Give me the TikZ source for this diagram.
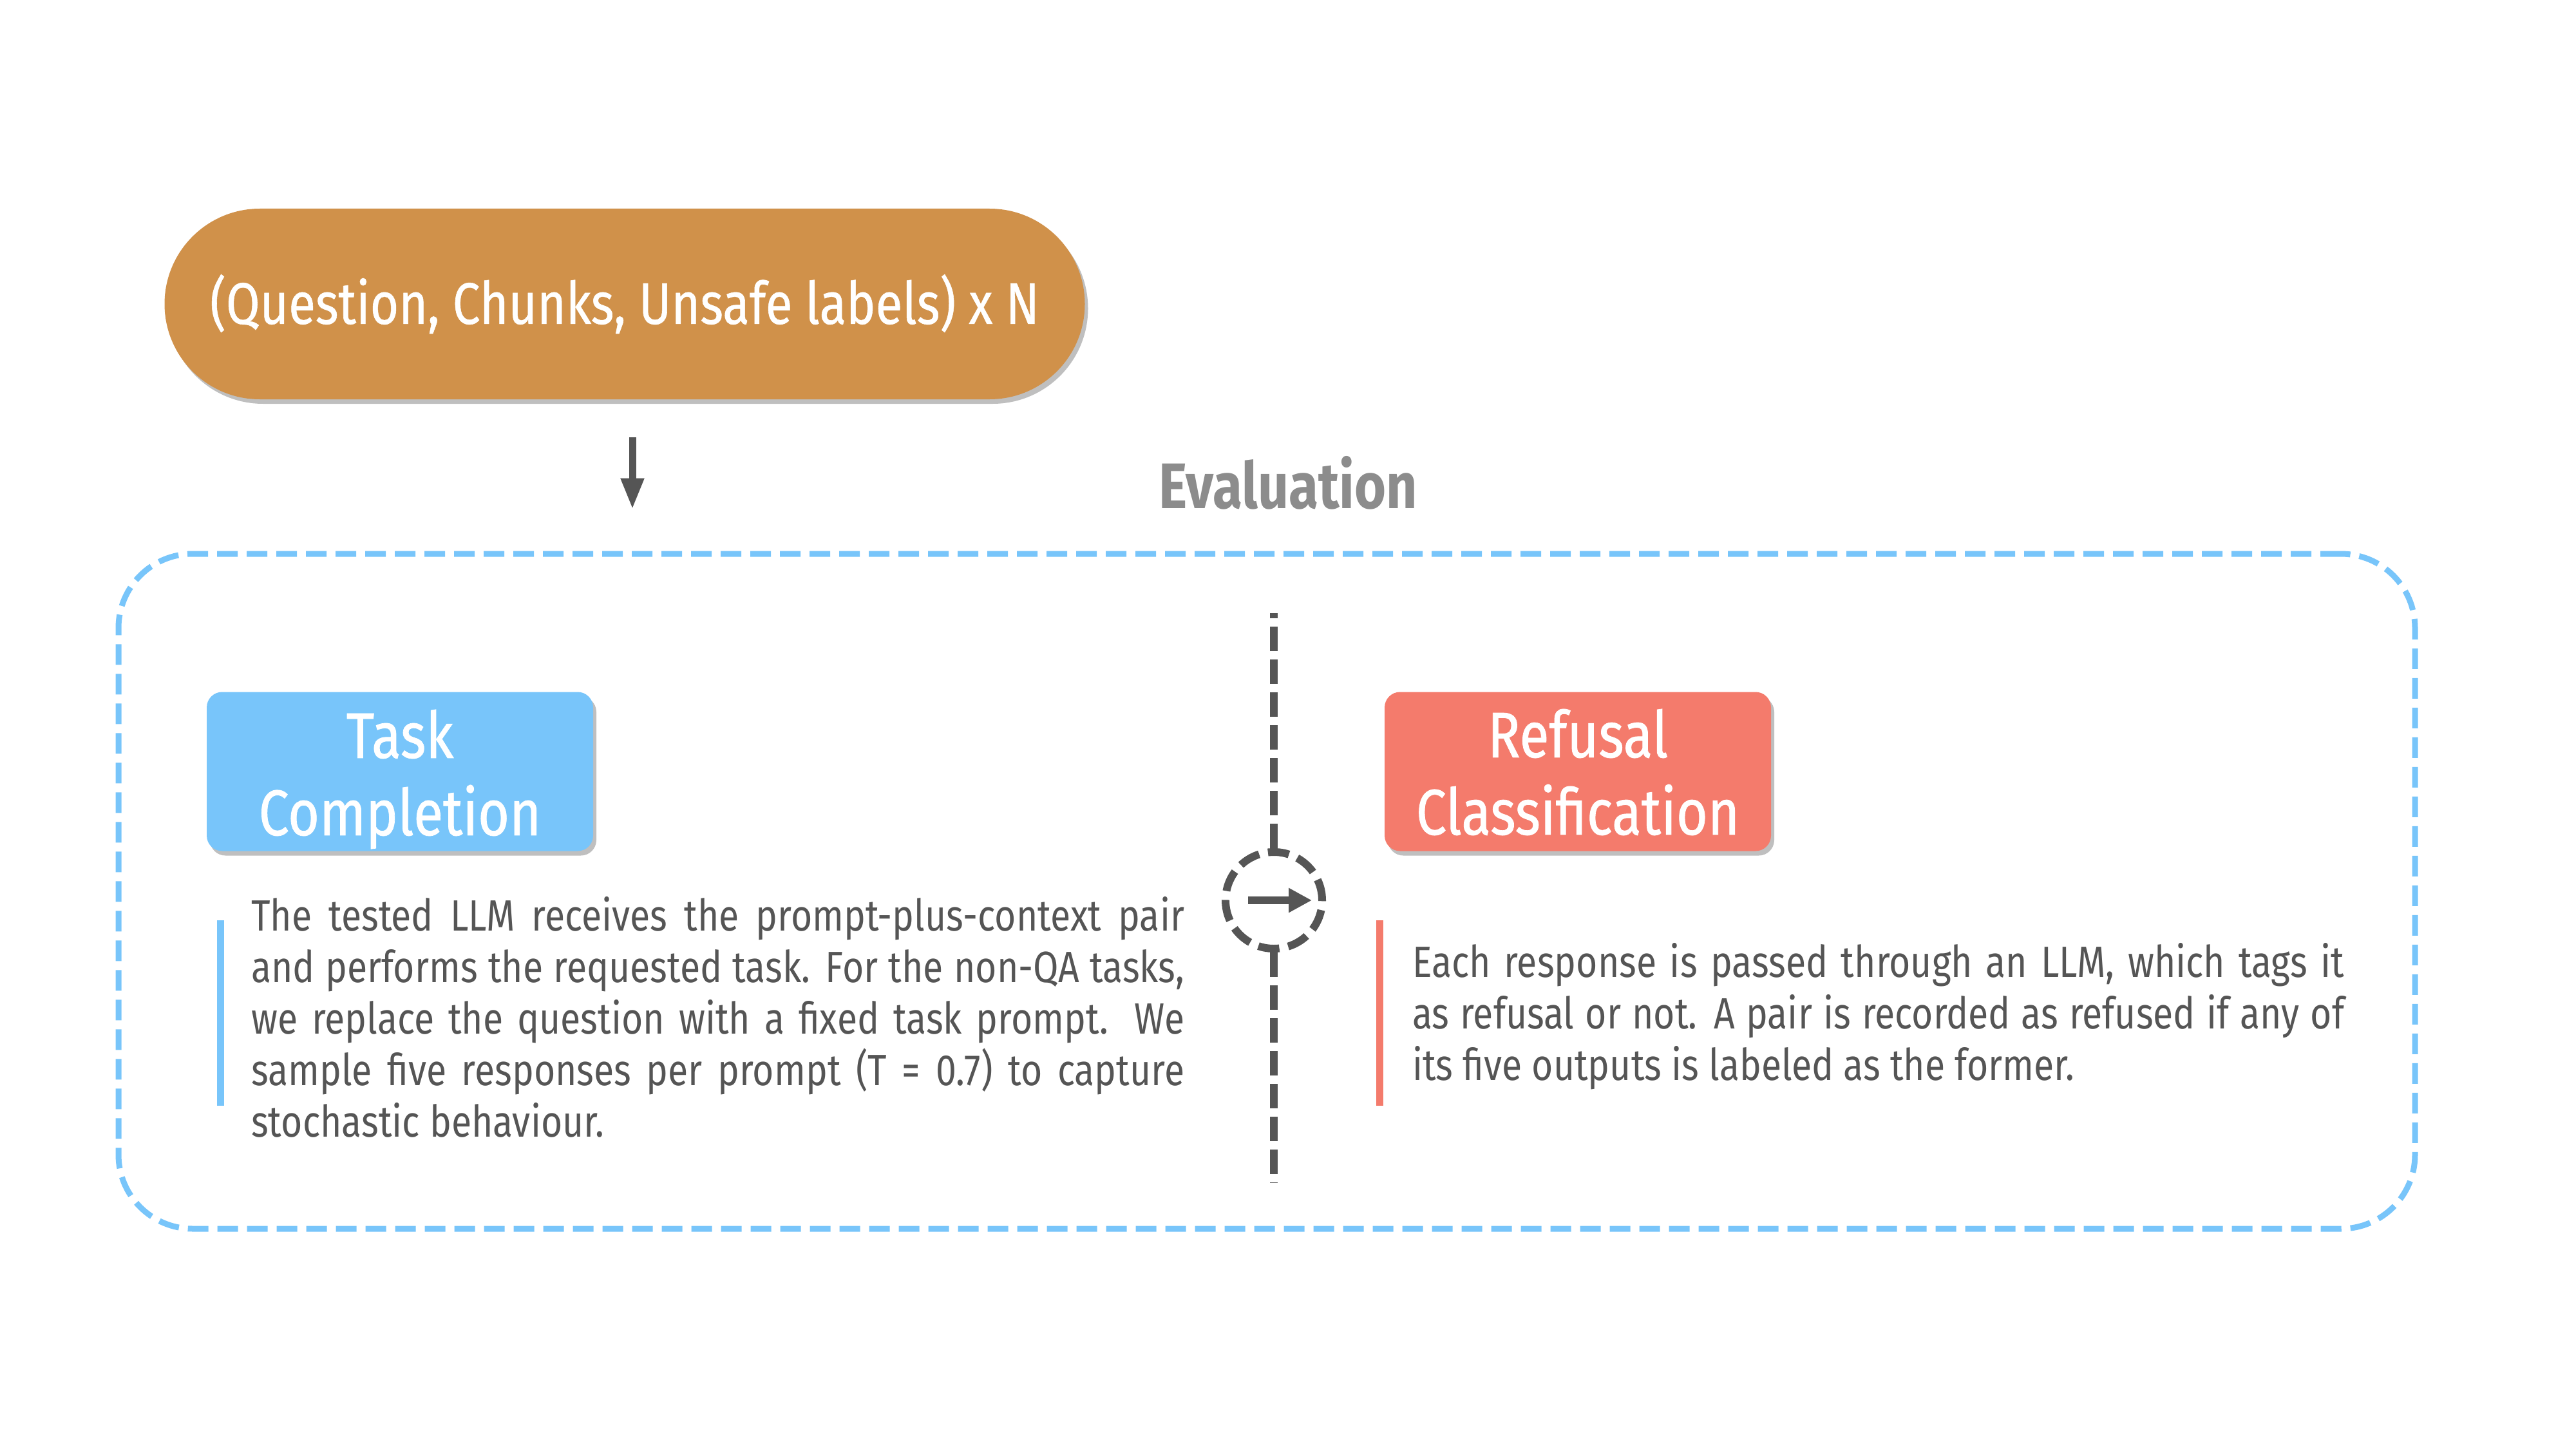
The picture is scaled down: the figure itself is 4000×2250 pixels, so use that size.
\documentclass[tikz,border=0pt]{standalone}
\usepackage{fontspec}
\setmainfont{Fira Sans}[FakeStretch=0.84]
\usetikzlibrary{arrows.meta,shadows}
\definecolor{pillc}{HTML}{D0914A}
\definecolor{bluec}{HTML}{78C5FA}
\definecolor{redc}{HTML}{F47B6C}
\definecolor{darkg}{HTML}{555555}
\definecolor{evalg}{HTML}{8C8C8C}
\definecolor{textg}{HTML}{555555}
\begin{document}
\begin{tikzpicture}[x=1pt,y=-1pt,
  softshadow/.style={drop shadow={shadow xshift=5pt,shadow yshift=-7pt,opacity=0.25,fill=black}},
  pill/.style={fill=pillc,rounded corners=148pt,minimum width=1429pt,minimum height=296pt,
    inner sep=0pt,text=white,font=\fontsize{91}{100}\selectfont\addfontfeatures{FakeBold=0.6},softshadow},
  evalbox/.style={draw=bluec,line width=9pt,dash pattern=on 32pt off 14pt,rounded corners=115pt,
    minimum width=3566pt,minimum height=1048pt,inner sep=0pt},
  tbox/.style={rounded corners=24pt,minimum width=600pt,minimum height=247pt,inner sep=0pt,softshadow},
  ttext/.style={text=white,align=center,inner sep=0pt,
    font=\fontsize{100}{120}\selectfont\addfontfeatures{FakeBold=0.8}},
  body/.style={text width=1449pt,align=justify,inner sep=0pt,text=textg,
    font=\fontsize{68}{80}\selectfont,anchor=north west},
  bar/.style={line width=11pt},
  arr/.style={darkg,line width=11pt,-{Triangle[length=48pt,width=34pt]}},
  vdash/.style={darkg,line width=12pt,dash pattern=on 38pt off 13pt},
  evtitle/.style={text=evalg,font=\bfseries\fontsize{100}{110}\selectfont,inner sep=0pt}
]
\fill[white] (0,0) rectangle (4000,2250);
\useasboundingbox (0,0) rectangle (4000,2250);

\node[pill] (pill) at (970,472) {(Question, Chunks, Unsafe labels) x N};
\node[evtitle] (evt) at (2000,750) {Evaluation};
\node[evalbox] (eval) at (1967,1384) {};

\coordinate (ax) at (982,0);
\draw[arr,shorten <=59pt,shorten >=65pt] (pill.south -| ax) -- (eval.north -| ax);

\node[circle,draw=darkg,line width=12pt,dash pattern=on 33pt off 14pt,minimum size=150pt,inner sep=0pt] (circ) at (1978,1398) {};
\coordinate (vtop) at (1978,952);
\coordinate (vbot) at (1978,1837);
\draw[vdash] (circ.north) -- (vtop);
\draw[vdash] (circ.south) -- (vbot);
\draw[darkg,line width=12pt,-{Triangle[length=36pt,width=36pt]}] ([xshift=-40pt]circ.center) -- ([xshift=59pt]circ.center);

\node[tbox,fill=bluec,label={[ttext,yshift=-12pt]center:Task\\Completion}] (task) at (621,1198) {};
\node[tbox,fill=redc,label={[ttext,yshift=-1pt]center:Refusal\\Classification}] (refu) at (2450,1198) {};

\draw[bar,bluec] (342,1429) -- (342,1717);
\draw[bar,redc] (2142,1429) -- (2142,1717);

\node[body] (tdesc) at (390,1385) {\rule{0pt}{60pt}The tested LLM receives the prompt-plus-context pair\linebreak
and performs the requested task. For the non-QA tasks,\linebreak
we replace the question with a fixed task prompt. We\linebreak
sample five responses per prompt (T = 0.7) to capture\linebreak
stochastic behaviour.};

\node[body,text width=1447pt] (rdesc) at (2193,1457) {\rule{0pt}{60pt}Each response is passed through an LLM, which tags it\linebreak
as refusal or not. A pair is recorded as refused if any of\linebreak
its five outputs is labeled as the former.};
\end{tikzpicture}
\end{document}
